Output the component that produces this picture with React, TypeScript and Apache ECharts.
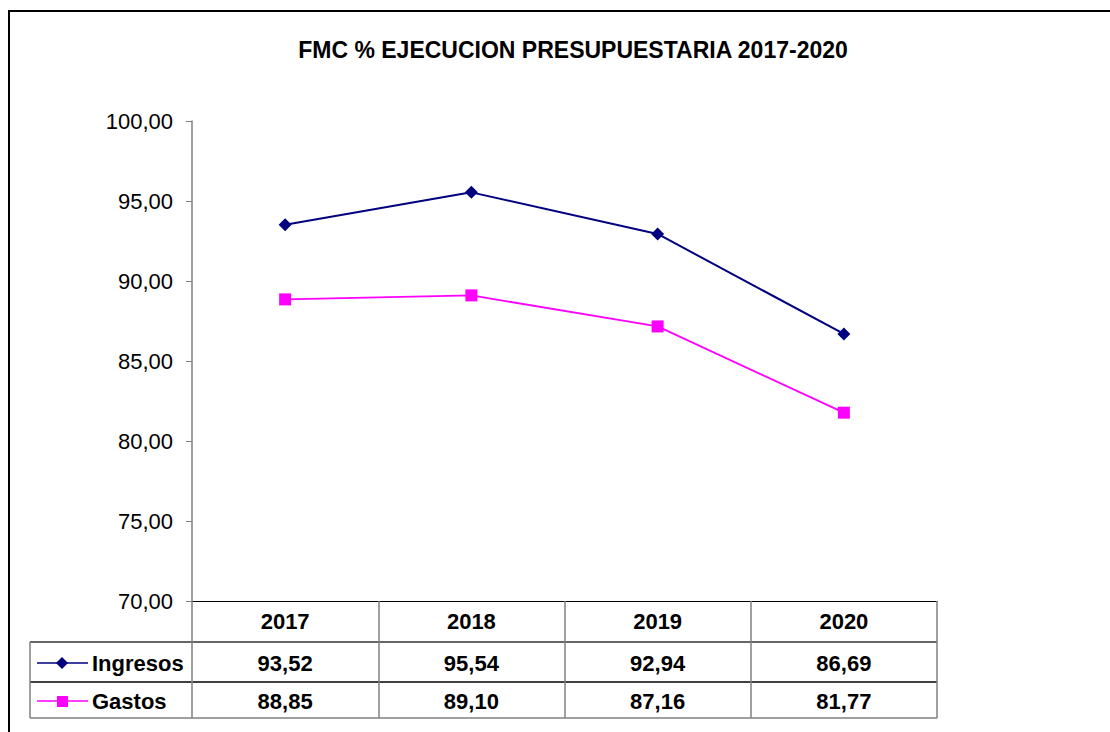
import React, { useEffect, useRef } from "react";
import * as echarts from "echarts";

const title = "FMC % EJECUCION PRESUPUESTARIA 2017-2020";
const categories = ["2017", "2018", "2019", "2020"];
const seriesNames = ["Ingresos", "Gastos"];
const ingresos = [93.52, 95.54, 92.94, 86.69];
const gastos = [88.85, 89.1, 87.16, 81.77];
const yMin = 70;
const yMax = 100;
const yStep = 5;

const fmt = (v: number) => v.toFixed(2).replace(".", ",");

const FONT = "'Liberation Sans', Arial, sans-serif";
const NAVY = "#000080";
const MAGENTA = "#FF00FF";
const GRID = { left: 192, right: 173, top: 121, bottom: 131 };

export default function App() {
  const ref = useRef<HTMLDivElement>(null);
  useEffect(() => {
    if (!ref.current) return;
    const chart = echarts.init(ref.current, null, { renderer: "svg" });
    chart.setOption({
      animation: false,
      backgroundColor: "#fff",
      title: {
        text: title,
        left: 568,
        top: 33,
        textAlign: "center",
        textStyle: { fontFamily: FONT, fontSize: 23, fontWeight: "bold", color: "#000" },
      },
      grid: GRID,
      xAxis: {
        type: "category",
        data: categories,
        boundaryGap: true,
        axisLine: { show: true, lineStyle: { color: "#000", width: 1 } },
        axisTick: { show: true, length: 117, lineStyle: { color: "#808080", width: 1.5 } },
        axisLabel: { fontFamily: FONT, fontSize: 22, fontWeight: "bold", color: "#000", margin: 9 },
        splitLine: { show: false },
      },
      yAxis: {
        type: "value",
        min: yMin,
        max: yMax,
        interval: yStep,
        axisLine: { show: true, lineStyle: { color: "#808080", width: 1.5 } },
        axisTick: { show: true, length: 6, lineStyle: { color: "#808080" } },
        axisLabel: { fontFamily: FONT, fontSize: 22, color: "#000", margin: 19, formatter: (v: number) => fmt(v) },
        splitLine: { show: false },
      },
      series: [
        {
          name: seriesNames[0],
          type: "line",
          data: ingresos,
          symbol: "diamond",
          symbolSize: 13,
          itemStyle: { color: NAVY },
          lineStyle: { color: NAVY, width: 2 },
        },
        {
          name: seriesNames[1],
          type: "line",
          data: gastos,
          symbol: "rect",
          symbolSize: 12,
          itemStyle: { color: MAGENTA },
          lineStyle: { color: MAGENTA, width: 1.8 },
        },
      ],
    });

    const xs = categories.map((_, i) => chart.convertToPixel({ xAxisIndex: 0 }, i) as number);
    const step = xs.length > 1 ? xs[1] - xs[0] : 0;
    const xRight = xs[xs.length - 1] + step / 2;
    const tableLeft = 30;
    const r1 = 642;
    const r2 = 682;
    const r3 = 718;
    const rows = [ingresos, gastos];
    const colors = [NAVY, MAGENTA];
    const symbols = ["diamond", "rect"];
    const graphics: any[] = [
      { type: "rect", shape: { x: 9, y: 11, width: 1200, height: 900 }, style: { fill: "none", stroke: "#000", lineWidth: 2 }, z: 100 },
      { type: "line", shape: { x1: tableLeft, y1: r1, x2: xRight, y2: r1 }, style: { stroke: "#333", lineWidth: 1.5 } },
      { type: "line", shape: { x1: tableLeft, y1: r2, x2: xRight, y2: r2 }, style: { stroke: "#000", lineWidth: 1.5 } },
      { type: "line", shape: { x1: tableLeft, y1: r3, x2: xRight, y2: r3 }, style: { stroke: "#808080", lineWidth: 1.5 } },
      { type: "line", shape: { x1: tableLeft, y1: r1, x2: tableLeft, y2: r3 }, style: { stroke: "#808080", lineWidth: 1.5 } },
    ];
    const rowY = [(r1 + r2) / 2 + 1, (r2 + r3) / 2 + 1];
    rows.forEach((vals, ri) => {
      const cy = rowY[ri];
      graphics.push({ type: "line", shape: { x1: 37, y1: cy, x2: 88, y2: cy }, style: { stroke: colors[ri], lineWidth: 1.5 } });
      if (symbols[ri] === "diamond") {
        graphics.push({ type: "polygon", shape: { points: [[62, cy - 6], [68, cy], [62, cy + 6], [56, cy]] }, style: { fill: colors[ri] } });
      } else {
        graphics.push({ type: "rect", shape: { x: 57, y: cy - 5, width: 11, height: 11 }, style: { fill: colors[ri] } });
      }
      graphics.push({
        type: "text",
        x: 92,
        y: cy,
        style: { text: seriesNames[ri], fontFamily: FONT, fontSize: 22, fontWeight: "bold", fill: "#000", textVerticalAlign: "middle", textAlign: "left" },
      });
      vals.forEach((v, ci) => {
        graphics.push({
          type: "text",
          x: xs[ci],
          y: cy,
          style: { text: fmt(v), fontFamily: FONT, fontSize: 22, fontWeight: "bold", fill: "#000", textVerticalAlign: "middle", textAlign: "center" },
        });
      });
    });
    chart.setOption({ graphic: graphics });
    return () => chart.dispose();
  }, []);
  return <div ref={ref} style={{ position: "fixed", left: 0, top: 0, width: 1110, height: 732 }} />;
}
